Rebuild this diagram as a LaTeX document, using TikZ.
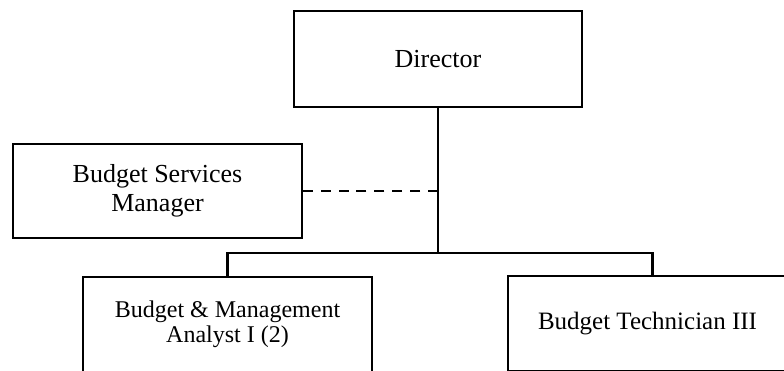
\documentclass[tikz,border=0pt]{standalone}
\usepackage{fontspec}
\setmainfont{Liberation Serif}
\begin{document}
\begin{tikzpicture}[x=1pt,y=1pt,
  post/.style={draw, line width=2.5pt, inner sep=0pt, align=center,
    minimum width=289pt, minimum height=95pt, font=\fontsize{26}{29}\selectfont},
  postsmall/.style={post, font=\fontsize{24}{25}\selectfont},
  link/.style={line width=2.5pt},
  dotted link/.style={line width=2.5pt, dash pattern=on 10pt off 7.9pt}]
\useasboundingbox (0,0) rectangle (784,370);
\clip (0,0) rectangle (784,370);

% positions
\node[post, minimum width=288pt, minimum height=96pt] (dir) at (438,311) {Director};
\node[post, minimum height=94pt] (bsm) at (157.5,179) {Budget Services\\Manager};
\node[postsmall] (ana) at (227.5,45.5) {Budget \& Management\\Analyst I (2)};
\node[post, font=\fontsize{25}{28}\selectfont] (tech) at (652.5,46.5) {Budget Technician III\hspace*{10pt}};
\coordinate (hub) at (438,117);

% reporting lines
\draw[link] (dir.south) -- (hub);
\draw[link] (ana.north) -- (ana.north |- hub) -- (tech.north |- hub) -- (tech.north);
\draw[dotted link] (bsm.east -| dir.south) -- (bsm.east);
\end{tikzpicture}
\end{document}
